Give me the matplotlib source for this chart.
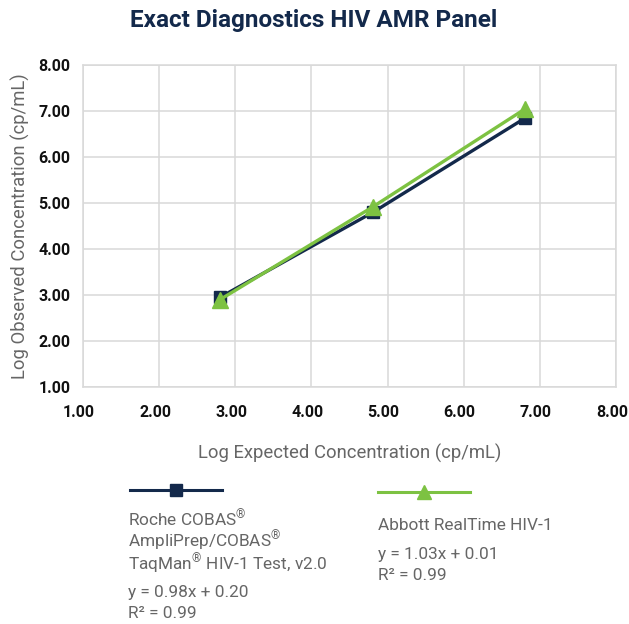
import matplotlib
matplotlib.use("Agg")
import matplotlib.pyplot as plt
from matplotlib.lines import Line2D
from matplotlib.transforms import ScaledTranslation

plt.rcParams['font.family'] = ['Roboto', 'DejaVu Sans']
plt.rcParams['mathtext.fontset'] = 'custom'
plt.rcParams['mathtext.rm'] = 'Roboto'
plt.rcParams['mathtext.it'] = 'Roboto'
plt.rcParams['mathtext.bf'] = 'Roboto:bold'

title = "Exact Diagnostics HIV AMR Panel"
x_label = "Log Expected Concentration (cp/mL)"
y_label = "Log Observed Concentration (cp/mL)"

expected = [2.80, 4.81, 6.81]
roche_obs = [2.95, 4.80, 6.85]
abbott_obs = [2.90, 4.92, 7.05]

ticks = [1, 2, 3, 4, 5, 6, 7, 8]
tick_labels = ["1.00", "2.00", "3.00", "4.00", "5.00", "6.00", "7.00", "8.00"]

roche_name = ["Roche COBAS$^{®}$", "AmpliPrep/COBAS$^{®}$", "TaqMan$^{®}$ HIV-1 Test, v2.0"]
roche_eq = ["y = 0.98x + 0.20", "R² = 0.99"]
abbott_name = ["Abbott RealTime HIV-1"]
abbott_eq = ["y = 1.03x + 0.01", "R² = 0.99"]

navy = "#13294b"
green = "#7dc242"
grid_c = "#d9d9d9"
text_gray = "#666666"

W, H = 629, 624
fig = plt.figure(figsize=(W / 100, H / 100), dpi=100)
ax = fig.add_axes([83 / W, 1 - 387 / H, (616 - 83) / W, (387 - 65) / H])

ax.plot(expected, roche_obs, color=navy, lw=2.4, marker='s', markersize=8.5, zorder=3)
ax.plot(expected, abbott_obs, color=green, lw=2.4, marker='^', markersize=11, zorder=4)

ax.set_xlim(1, 8)
ax.set_ylim(1, 8)
ax.set_xticks(ticks)
ax.set_yticks(ticks)
ax.set_xticklabels(tick_labels, fontweight='bold', fontsize=11.5, color='#111111')
ax.set_yticklabels(tick_labels, fontweight='bold', fontsize=11.5, color='#111111')
ax.tick_params(axis='both', length=0)
ax.tick_params(axis='x', pad=13)
ax.tick_params(axis='y', pad=9)
shift = ScaledTranslation(-4 / 100, 0, fig.dpi_scale_trans)
for lbl in ax.get_xticklabels():
    lbl.set_transform(lbl.get_transform() + shift)
ax.grid(True, color=grid_c, lw=1.1)
ax.set_axisbelow(True)
for s in ax.spines.values():
    s.set_color(grid_c)
    s.set_linewidth(1.1)

ax.set_xlabel(x_label, fontsize=13.3, color=text_gray, labelpad=17)
ax.set_ylabel(y_label, fontsize=13.3, color=text_gray, labelpad=6)

fig.text(314 / W, 1 - 20 / H, title, ha='center', va='center', fontsize=17.5,
         fontweight='bold', color=navy)

# legend samples
def sample(x0, x1, y, color, marker, ms):
    ln = Line2D([x0 / W, (x0 + x1) / 2 / W, x1 / W], [1 - y / H] * 3,
                transform=fig.transFigure, color=color, lw=2.2,
                marker=marker, markersize=ms, markevery=[1])
    fig.add_artist(ln)

sample(130, 222, 490, navy, 's', 8)
sample(378, 470, 492, green, '^', 9.5)

def lines(x, ys, texts):
    for y, t in zip(ys, texts):
        fig.text(x / W, 1 - y / H, t, ha='left', va='center', fontsize=12.4, color=text_gray)

lines(128, [519, 541, 564], roche_name)
lines(128, [592, 613], roche_eq)
lines(378, [525], abbott_name)
lines(378, [555, 576], abbott_eq)

fig.savefig("out.png", dpi=100)
